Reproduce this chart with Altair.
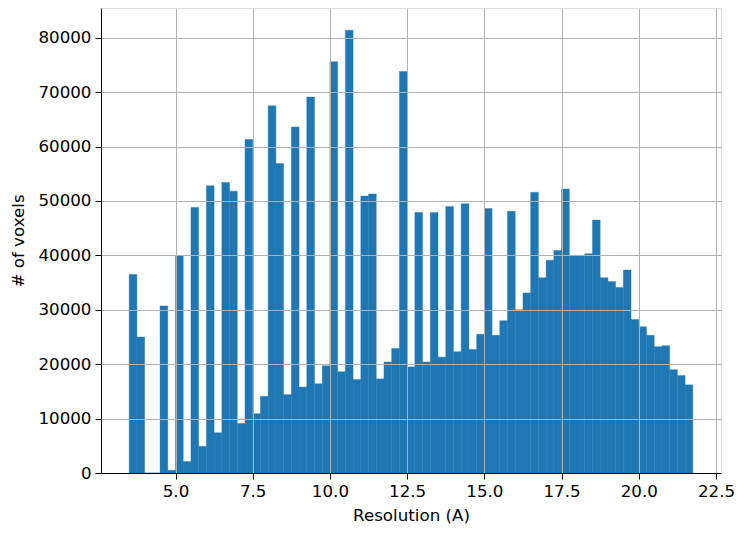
import altair as alt
import pandas as pd

# Histogram: 73 bins of width 0.25 starting at 3.5 (Resolution in A)
BIN_START = 3.5
BIN_WIDTH = 0.25
counts = [
    36500, 25000, 0, 0, 30700, 500, 39900, 2100, 48800, 4900,
    52800, 7400, 53400, 51800, 9100, 61300, 10900, 14100, 67500, 56900,
    14400, 63600, 15800, 69100, 16400, 19700, 75600, 18600, 81400, 17200,
    50900, 51300, 17300, 20400, 22900, 73800, 19500, 47900, 20400, 47900,
    21300, 49000, 22300, 49500, 22700, 25500, 48600, 25300, 28000, 48100,
    30000, 33100, 51600, 35900, 39100, 40900, 52200, 40000, 40000, 40300,
    46500, 35900, 35200, 34100, 37300, 28200, 26900, 25300, 23200, 23400,
    19000, 17900, 16200,
]
x_ticks = [5.0, 7.5, 10.0, 12.5, 15.0, 17.5, 20.0, 22.5]
y_ticks = [0, 10000, 20000, 30000, 40000, 50000, 60000, 70000, 80000]

starts = [BIN_START + BIN_WIDTH * i for i in range(len(counts))]
df = pd.DataFrame({
    "start": starts,
    "end": [s + BIN_WIDTH for s in starts],
    "count": counts,
})

data_min = starts[0]
data_max = starts[-1] + BIN_WIDTH
margin = 0.05 * (data_max - data_min)
x_domain = [data_min - margin, data_max + margin]
y_domain = [0, max(counts) * 1.05]

FONT = "DejaVu Sans"
FS = 16.7

common_axis = dict(
    grid=True, gridColor="#b0b0b0", gridWidth=1,
    tickSize=6, tickColor="black", tickWidth=1,
    domainColor="black", domainWidth=1,
    labelFont=FONT, labelFontSize=FS, labelColor="black",
    titleFont=FONT, titleFontSize=FS, titleFontWeight="normal", titleColor="black",
    labelOverlap=False, labelFlush=False, zindex=1,
)

chart = alt.Chart(df).mark_rect(
    color="#1f77b4", stroke="#1f77b4", strokeWidth=0.4
).encode(
    x=alt.X("start:Q",
            scale=alt.Scale(domain=x_domain, nice=False, zero=False),
            axis=alt.Axis(values=x_ticks, format=".1f", title="Resolution (A)",
                          labelPadding=4, titlePadding=8, **common_axis)),
    x2="end:Q",
    y=alt.Y("count:Q",
            scale=alt.Scale(domain=y_domain, nice=False),
            axis=alt.Axis(values=y_ticks, format="d", title="# of voxels",
                          labelPadding=4, titlePadding=10, **common_axis)),
).properties(
    width=620,
    height=465,
    autosize=alt.AutoSizeParams(type="none"),
    padding={"left": 93, "top": 0, "right": 19, "bottom": 56},
).configure_view(
    stroke="black", strokeWidth=1,
).configure(background="white")

chart.save("out.html", embed_options={"renderer": "svg", "actions": False})
